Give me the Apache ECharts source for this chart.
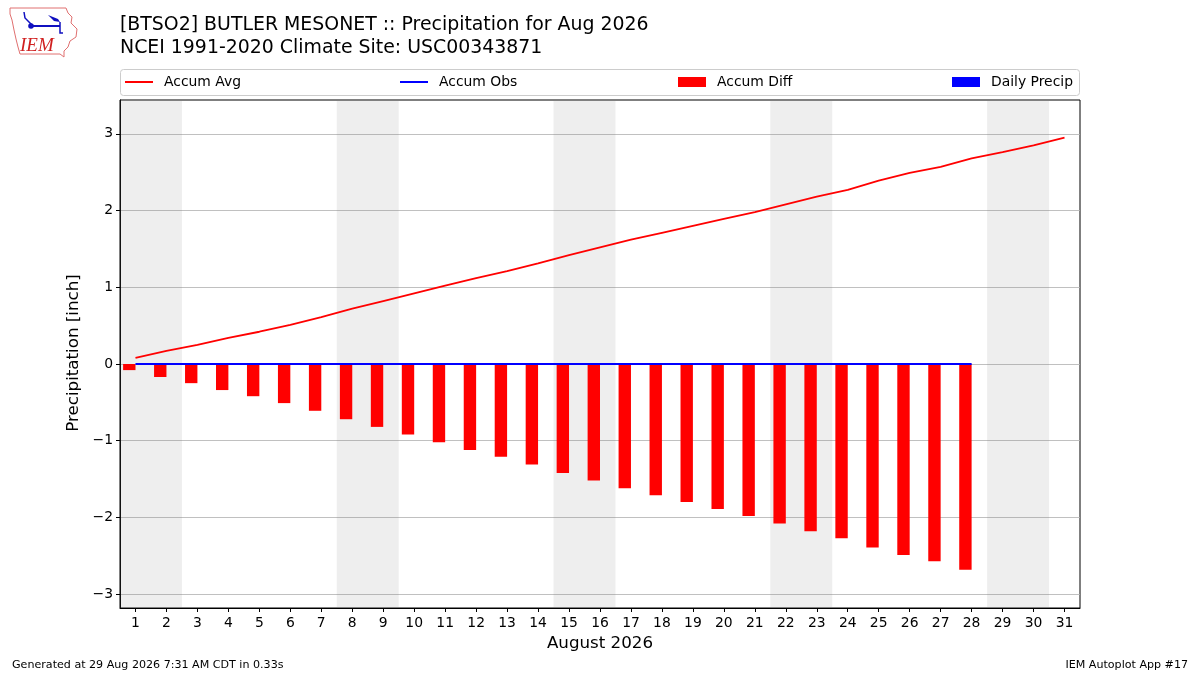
<!DOCTYPE html>
<html><head><meta charset="utf-8">
<script src="https://cdn.jsdelivr.net/npm/echarts@6/dist/echarts.min.js"></script>
<style>html,body{margin:0;padding:0;background:#fff}#c{width:1200px;height:675px}</style>
</head><body><div id="c"></div>
<script>
const days = ['1','2','3','4','5','6','7','8','9','10','11','12','13','14','15','16','17','18','19','20','21','22','23','24','25','26','27','28','29','30','31'];
const accumAvg = [0.08,0.17,0.25,0.34,0.42,0.51,0.61,0.72,0.82,0.92,1.02,1.12,1.21,1.31,1.42,1.52,1.62,1.71,1.80,1.89,1.98,2.08,2.18,2.27,2.39,2.49,2.57,2.68,2.76,2.85,2.95];
const accumObs = [0,0,0,0,0,0,0,0,0,0,0,0,0,0,0,0,0,0,0,0,0,0,0,0,0,0,0,0];
const accumDiff = [-0.08,-0.17,-0.25,-0.34,-0.42,-0.51,-0.61,-0.72,-0.82,-0.92,-1.02,-1.12,-1.21,-1.31,-1.42,-1.52,-1.62,-1.71,-1.80,-1.89,-1.98,-2.08,-2.18,-2.27,-2.39,-2.49,-2.57,-2.68];
const dailyPrecip = [0,0,0,0,0,0,0,0,0,0,0,0,0,0,0,0,0,0,0,0,0,0,0,0,0,0,0,0];
const weekendRanges = [[1,2],[8,9],[15,16],[22,23],[29,30]];
const yTicks = [-3,-2,-1,0,1,2,3];
const yMin = -3.18, yMax = 3.44;

const FONT = 'DejaVu Sans';
const chart = echarts.init(document.getElementById('c'), null, {renderer:'canvas'});
const pad = a => a.concat(new Array(days.length - a.length).fill(null));

const legendCommon = {
  orient:'horizontal', top:74, padding:0, itemWidth:28, itemHeight:10,
  textStyle:{fontFamily:FONT, fontSize:13.9, color:'#000', lineHeight:16, padding:[0,0,0,6]},
  selectedMode:false
};

chart.setOption({
  animation:false,
  backgroundColor:'#fff',
  textStyle:{fontFamily:FONT},
  grid:{left:120, right:120, top:100, bottom:67, show:true, borderColor:'#000', borderWidth:1, containLabel:false},
  legend:[
    Object.assign({}, legendCommon, {left:125, itemHeight:2, data:[{name:'Accum Avg', icon:'rect'}]}),
    Object.assign({}, legendCommon, {left:400, itemHeight:2, data:[{name:'Accum Obs', icon:'rect'}]}),
    Object.assign({}, legendCommon, {left:678, data:[{name:'Accum Diff', icon:'rect'}]}),
    Object.assign({}, legendCommon, {left:952, data:[{name:'Daily Precip', icon:'rect'}]})
  ],
  xAxis:[{
    type:'category', data:days, boundaryGap:true,
    axisLine:{show:true, onZero:false, lineStyle:{color:'#000', width:1}},
    axisTick:{show:true, alignWithLabel:true, length:4, lineStyle:{color:'#000'}},
    axisLabel:{color:'#000', fontFamily:FONT, fontSize:13.9, margin:8, interval:0},
    splitLine:{show:false}
  },{
    type:'value', min:0.5, max:31.5, show:false
  }],
  yAxis:{
    type:'value', min:yMin, max:yMax,
    axisLine:{show:true, lineStyle:{color:'#000', width:1}},
    axisTick:{show:true, length:4, lineStyle:{color:'#000'}, customValues:yTicks},
    axisLabel:{color:'#000', fontFamily:FONT, fontSize:13.9, margin:7, customValues:yTicks,
      formatter:v => String(Math.round(v)).replace('-', '\u2212')},
    splitLine:{show:true, lineStyle:{color:'#b0b0b0', width:0.8}}
  },
  series:[
    {
      type:'custom', name:'weekends', xAxisIndex:1, yAxisIndex:0, silent:true, z:1,
      data:weekendRanges,
      renderItem:(params, api) => {
        const p0 = api.coord([api.value(0) - 0.5, yMax]);
        const p1 = api.coord([api.value(1) + 0.5, yMin]);
        return {type:'rect', shape:{x:p0[0], y:p0[1], width:p1[0]-p0[0], height:p1[1]-p0[1]},
          style:{fill:'rgba(128,128,128,0.135)'}};
      }
    },
    {
      name:'Accum Diff', type:'bar', data:pad(accumDiff), barWidth:'40%', barGap:'0%',
      itemStyle:{color:'#ff0000'}, z:3
    },
    {
      name:'Daily Precip', type:'bar', data:pad(dailyPrecip), barWidth:'40%', barGap:'0%',
      itemStyle:{color:'#0000ff'}, z:3
    },
    {
      name:'Accum Avg', type:'line', data:accumAvg, symbol:'none', showSymbol:false,
      lineStyle:{color:'#ff0000', width:1.8}, itemStyle:{color:'#ff0000'}, z:4
    },
    {
      name:'Accum Obs', type:'line', data:pad(accumObs), symbol:'none', showSymbol:false,
      lineStyle:{color:'#0000ff', width:1.8}, itemStyle:{color:'#0000ff'}, z:5
    }
  ],
  graphic:[
    {type:'rect', shape:{x:120.5, y:69.5, width:959, height:26, r:3}, style:{fill:'rgba(255,255,255,0.8)', stroke:'#cccccc', lineWidth:1}, z:-1},
    {type:'text', x:120, y:25, style:{text:'[BTSO2] BUTLER MESONET :: Precipitation for Aug 2026', font:'18.9px "DejaVu Sans"', fill:'#000', verticalAlign:'middle', align:'left'}},
    {type:'text', x:120, y:48, style:{text:'NCEI 1991-2020 Climate Site: USC00343871', font:'18.9px "DejaVu Sans"', fill:'#000', verticalAlign:'middle', align:'left'}},
    {type:'text', x:74, y:353, rotation:Math.PI/2, style:{text:'Precipitation [inch]', font:'16.7px "DejaVu Sans"', fill:'#000', verticalAlign:'middle', align:'center'}},
    {type:'text', x:600, y:644, style:{text:'August 2026', font:'16.7px "DejaVu Sans"', fill:'#000', verticalAlign:'middle', align:'center'}},
    {type:'text', x:12, y:665, style:{text:'Generated at 29 Aug 2026 7:31 AM CDT in 0.33s', font:'11.1px "DejaVu Sans"', fill:'#000', verticalAlign:'middle', align:'left'}},
    {type:'text', x:1188, y:665, style:{text:'IEM Autoplot App #17', font:'11.1px "DejaVu Sans"', fill:'#000', verticalAlign:'middle', align:'right'}},
    {type:'polygon', shape:{points:[[10,8],[66,8],[68,13],[72,17],[71,23],[77,29],[76,37],[70,41],[68,47],[64,51],[64,57],[60,54],[20,54],[18,47],[16,39],[14,30],[12,20],[10,14]]}, style:{fill:'none', stroke:'#e07070', lineWidth:1}},
    {type:'polyline', shape:{points:[[24,12],[25,18],[29,22],[32,25]]}, style:{stroke:'#1010c0', lineWidth:1.5, fill:'none'}},
    {type:'line', shape:{x1:31, y1:26, x2:60, y2:26}, style:{stroke:'#1010c0', lineWidth:2}},
    {type:'circle', shape:{cx:31, cy:26, r:2.8}, style:{fill:'#1010c0'}},
    {type:'polygon', shape:{points:[[48,15],[58,19],[60,22],[54,21]]}, style:{fill:'#1010c0'}},
    {type:'polyline', shape:{points:[[60,22],[60,33],[63,33]]}, style:{stroke:'#1010c0', lineWidth:1.5, fill:'none'}},
    {type:'text', x:20, y:46, style:{text:'IEM', font:'italic 19px "Liberation Serif"', fill:'#d02020', verticalAlign:'middle', align:'left'}}
  ]
});
</script></body></html>
